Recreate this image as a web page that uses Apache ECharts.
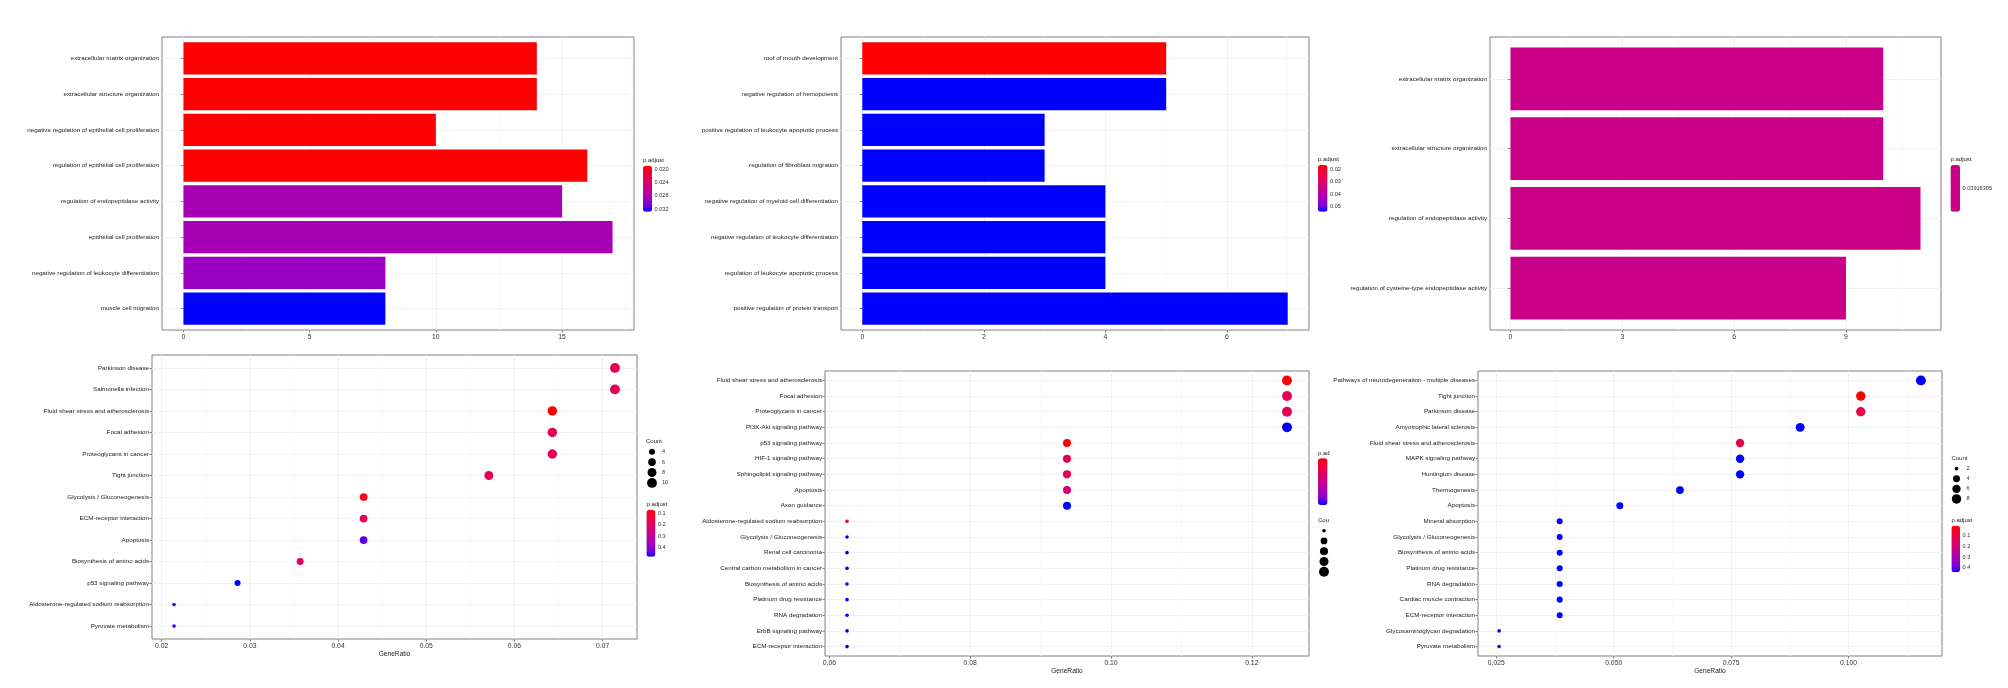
<!DOCTYPE html>
<html>
<head>
<meta charset="utf-8">
<script src="https://cdn.jsdelivr.net/npm/echarts@6.0.0/dist/echarts.min.js"></script>
<style>
html,body{margin:0;padding:0;background:#fff;}
#chart{width:2008px;height:688px;}
</style>
</head>
<body>
<div id="chart"></div>
<script>
// ===================== DATA =====================
// Panel 1 (top-left): GO bar plot
const p1Terms = ['extracellular matrix organization','extracellular structure organization','negative regulation of epithelial cell proliferation','regulation of epithelial cell proliferation','regulation of endopeptidase activity','epithelial cell proliferation','negative regulation of leukocyte differentiation','muscle cell migration'];
const p1Count = [14, 14, 10, 16, 15, 17, 8, 8];
const p1Padj  = [0.0190, 0.0190, 0.0190, 0.0190, 0.0285, 0.0285, 0.0293, 0.0328];
const p1XTicks = [0, 5, 10, 15];
const p1XTickLabels = ['0', '5', '10', '15'];
const p1XMinor = [2.5, 7.5, 12.5, 17.5];
const p1PadjTicks = [0.020, 0.024, 0.028, 0.032];
const p1PadjTickLabels = ['0.020', '0.024', '0.028', '0.032'];

// Panel 2 (top-middle): GO bar plot
const p2Terms = ['roof of mouth development','negative regulation of hemopoiesis','positive regulation of leukocyte apoptotic process','regulation of fibroblast migration','negative regulation of myeloid cell differentiation','negative regulation of leukocyte differentiation','regulation of leukocyte apoptotic process','positive regulation of protein transport'];
const p2Count = [5, 5, 3, 3, 4, 4, 4, 7];
const p2Padj  = [0.0165, 0.0544, 0.0544, 0.0544, 0.0544, 0.0544, 0.0544, 0.0544];
const p2XTicks = [0, 2, 4, 6];
const p2XTickLabels = ['0', '2', '4', '6'];
const p2XMinor = [1, 3, 5, 7];
const p2PadjTicks = [0.02, 0.03, 0.04, 0.05];
const p2PadjTickLabels = ['0.02', '0.03', '0.04', '0.05'];

// Panel 3 (top-right): GO bar plot
const p3Terms = ['extracellular matrix organization','extracellular structure organization','regulation of endopeptidase activity','regulation of cysteine-type endopeptidase activity'];
const p3Count = [10, 10, 11, 9];
const p3Padj  = [0.03916305, 0.03916305, 0.03916305, 0.03916305];
const p3XTicks = [0, 3, 6, 9];
const p3XTickLabels = ['0', '3', '6', '9'];
const p3XMinor = [1.5, 4.5, 7.5, 10.5];
const p3PadjTicks = [0.03916305];
const p3PadjTickLabels = ['0.03916305'];

// Panel 4 (bottom-left): KEGG dot plot
const p4Terms = ['Parkinson disease','Salmonella infection','Fluid shear stress and atherosclerosis','Focal adhesion','Proteoglycans in cancer','Tight junction','Glycolysis / Gluconeogenesis','ECM-receptor interaction','Apoptosis','Biosynthesis of amino acids','p53 signaling pathway','Aldosterone-regulated sodium reabsorption','Pyruvate metabolism'];
const p4Ratio = [0.0714, 0.0714, 0.0643, 0.0643, 0.0643, 0.0571, 0.0429, 0.0429, 0.0429, 0.0357, 0.0286, 0.0214, 0.0214];
const p4Count = [10, 10, 9, 9, 9, 8, 6, 6, 6, 5, 4, 3, 3];
const p4Padj  = [0.181, 0.181, 0.071, 0.181, 0.181, 0.185, 0.098, 0.185, 0.437, 0.193, 0.478, 0.445, 0.445];
const p4XTicks = [0.02, 0.03, 0.04, 0.05, 0.06, 0.07];
const p4XTickLabels = ['0.02', '0.03', '0.04', '0.05', '0.06', '0.07'];
const p4XMinor = [0.025, 0.035, 0.045, 0.055, 0.065];
const p4CountBreaks = [4, 6, 8, 10];
const p4PadjTicks = [0.1, 0.2, 0.3, 0.4];
const p4PadjTickLabels = ['0.1', '0.2', '0.3', '0.4'];

// Panel 5 (bottom-middle): KEGG dot plot
const p5Terms = ['Fluid shear stress and atherosclerosis','Focal adhesion','Proteoglycans in cancer','PI3K-Akt signaling pathway','p53 signaling pathway','HIF-1 signaling pathway','Sphingolipid signaling pathway','Apoptosis','Axon guidance','Aldosterone-regulated sodium reabsorption','Glycolysis / Gluconeogenesis','Renal cell carcinoma','Central carbon metabolism in cancer','Biosynthesis of amino acids','Platinum drug resistance','RNA degradation','ErbB signaling pathway','ECM-receptor interaction'];
const p5Ratio = [0.125, 0.125, 0.125, 0.125, 0.09375, 0.09375, 0.09375, 0.09375, 0.09375, 0.0625, 0.0625, 0.0625, 0.0625, 0.0625, 0.0625, 0.0625, 0.0625, 0.0625];
const p5Count = [4, 4, 4, 4, 3, 3, 3, 3, 3, 2, 2, 2, 2, 2, 2, 2, 2, 2];
const p5Padj  = [0.012, 0.045, 0.045, 0.135, 0.012, 0.045, 0.045, 0.065, 0.135, 0.045, 0.135, 0.135, 0.135, 0.135, 0.135, 0.135, 0.135, 0.135];
const p5XTicks = [0.06, 0.08, 0.10, 0.12];
const p5XTickLabels = ['0.06', '0.08', '0.10', '0.12'];
const p5XMinor = [0.07, 0.09, 0.11];
const p5CountBreaks = [2, 2.5, 3, 3.5, 4];

// Panel 6 (bottom-right): KEGG dot plot
const p6Terms = ['Pathways of neurodegeneration - multiple diseases','Tight junction','Parkinson disease','Amyotrophic lateral sclerosis','Fluid shear stress and atherosclerosis','MAPK signaling pathway','Huntington disease','Thermogenesis','Apoptosis','Mineral absorption','Glycolysis / Gluconeogenesis','Biosynthesis of amino acids','Platinum drug resistance','RNA degradation','Cardiac muscle contraction','ECM-receptor interaction','Glycosaminoglycan degradation','Pyruvate metabolism'];
const p6Ratio = [0.1154, 0.1026, 0.1026, 0.0897, 0.0769, 0.0769, 0.0769, 0.0641, 0.0513, 0.0385, 0.0385, 0.0385, 0.0385, 0.0385, 0.0385, 0.0385, 0.0256, 0.0256];
const p6Count = [9, 8, 8, 7, 6, 6, 6, 5, 4, 3, 3, 3, 3, 3, 3, 3, 2, 2];
const p6Padj  = [0.44, 0.012, 0.098, 0.44, 0.100, 0.44, 0.44, 0.44, 0.44, 0.44, 0.44, 0.44, 0.44, 0.44, 0.44, 0.44, 0.44, 0.44];
const p6XTicks = [0.025, 0.05, 0.075, 0.1];
const p6XTickLabels = ['0.025', '0.050', '0.075', '0.100'];
const p6XMinor = [0.0375, 0.0625, 0.0875, 0.1125];
const p6CountBreaks = [2, 4, 6, 8];
const p6PadjTicks = [0.1, 0.2, 0.3, 0.4];
const p6PadjTickLabels = ['0.1', '0.2', '0.3', '0.4'];

// ===================== STYLE / LAYOUT =====================
const FONT = "'Liberation Sans',Arial,sans-serif";
const FS_CAT = 6.25, FS_TICK = 6.8, FS_NAME = 6.6, FS_LEG = 5.6, FS_LEGT = 6.0;
const PAL = ['#FF0000','#F70031','#E80050','#DA006C','#CA0089','#B500A5','#9A00C3','#7300E0','#0000FF'];
const PAL_MID = PAL[4];
const FRAME = '#808080', GRIDC = '#F0F0F0', MINORC = '#F6F6F6', TICKC = '#666';

const option = {animation: false, backgroundColor: '#ffffff', grid: [], xAxis: [], yAxis: [], series: [], visualMap: [], title: []};
function push(k, o) { option[k].push(o); return option[k].length - 1; }
function addGrid(l, t, w, h, extra) {
  return push('grid', Object.assign({left: l, top: t, width: w, height: h, containLabel: false, outerBoundsMode: 'none'}, extra || {}));
}
function fmtFrom(ticks, labels) {
  return v => {
    const i = ticks.findIndex(tk => Math.abs(tk - v) <= 1e-6 * Math.max(Math.abs(tk), 1e-9));
    return i >= 0 ? labels[i] : '';
  };
}
function txt(size, color) { return {fontFamily: FONT, fontSize: size, color: color || '#222'}; }
function dotSize(c, cmin, cmax) {
  const s = 1 + 5 * Math.sqrt((c - cmin) / (cmax - cmin));
  return 1.25 * s + 2.4;
}
function majorX(gi, xMin, xMax, ticks, labels, name) {
  const o = {type: 'value', gridIndex: gi, min: xMin, max: xMax, position: 'bottom',
    axisLine: {show: false},
    axisTick: {show: true, length: 2.5, customValues: ticks, lineStyle: {color: TICKC, width: 0.8}},
    axisLabel: Object.assign({customValues: ticks, margin: 3.5, formatter: fmtFrom(ticks, labels)}, txt(FS_TICK, '#333')),
    splitLine: {show: true, lineStyle: {color: GRIDC, width: 0.9}}};
  if (name) {
    Object.assign(o, {name: name, nameLocation: 'middle', nameGap: 11, nameTextStyle: txt(FS_NAME, '#222')});
  }
  return push('xAxis', o);
}
function minorX(gi, xMin, xMax, minor) {
  return push('xAxis', {type: 'value', gridIndex: gi, min: xMin, max: xMax, position: 'bottom',
    axisLine: {show: false}, axisTick: {show: false, customValues: minor},
    axisLabel: {show: false, customValues: minor},
    splitLine: {show: true, lineStyle: {color: MINORC, width: 0.7}}});
}
function catY(gi, terms) {
  const n = terms.length;
  const vals = terms.map((_, i) => n - i);
  return push('yAxis', {type: 'value', gridIndex: gi, min: 0.4, max: n + 0.6,
    axisLine: {show: false},
    axisTick: {show: true, length: 2.5, customValues: vals, lineStyle: {color: TICKC, width: 0.8}},
    axisLabel: Object.assign({customValues: vals, margin: 3, formatter: v => terms[n - Math.round(v)]}, txt(FS_CAT, '#1a1a1a')),
    splitLine: {show: true, lineStyle: {color: GRIDC, width: 0.9}}});
}
function legendTitle(text, x, y) {
  push('title', {text: text, left: x, top: y, padding: 0, textStyle: Object.assign({fontWeight: 'normal'}, txt(FS_LEGT, '#222'))});
}
function colorbar(si, dim, pmin, pmax, colors, cb, ticks, labels, showLabels) {
  push('visualMap', {type: 'continuous', seriesIndex: si, dimension: dim, min: pmin, max: pmax,
    inverse: true, calculable: false, hoverLink: false, left: cb.x, top: cb.y, itemWidth: cb.w, itemHeight: cb.h,
    padding: 0, text: null, showLabel: false, inRange: {color: colors}});
  const gi = addGrid(cb.x, cb.y, cb.w, cb.h);
  push('xAxis', {type: 'value', gridIndex: gi, min: 0, max: 1, show: false});
  push('yAxis', {type: 'value', gridIndex: gi, min: pmin, max: pmax, inverse: true, position: 'right', z: 10,
    axisLine: {show: false},
    axisTick: {show: true, inside: true, length: 2, customValues: ticks, lineStyle: {color: '#ffffff', width: 0.8}},
    axisLabel: Object.assign({show: showLabels, customValues: ticks, margin: 2.5, formatter: fmtFrom(ticks, labels)}, txt(FS_LEG, '#333')),
    splitLine: {show: false}});
  legendTitle(cb.title, cb.x, cb.ty);
}
function countLegend(breaks, cmin, cmax, lg, showLabels) {
  const gi = addGrid(lg.cx - 6, lg.top, 12, lg.step * breaks.length);
  const xi = push('xAxis', {type: 'value', gridIndex: gi, min: -1, max: 1, show: false});
  const yi = push('yAxis', {type: 'category', gridIndex: gi, data: breaks.map(String), inverse: true, position: 'right',
    axisLine: {show: false}, axisTick: {show: false}, splitLine: {show: false},
    axisLabel: Object.assign({show: showLabels, margin: 4}, txt(FS_LEG, '#333'))});
  push('series', {type: 'scatter', xAxisIndex: xi, yAxisIndex: yi, silent: true, symbol: 'circle',
    data: breaks.map(b => [0, String(b), b]), symbolSize: v => dotSize(v[2], cmin, cmax),
    itemStyle: {color: '#000000', opacity: 1}});
  legendTitle(lg.title, lg.tx, lg.ty);
}

function barPanel(terms, counts, padj, xTicks, xLabels, xMinor, L) {
  const n = terms.length;
  const [l, t, r, b] = L.frame;
  const maxV = Math.max(...counts);
  const xMin = -0.05 * maxV, xMax = 1.05 * maxV;
  const gF = addGrid(l, t, r - l, b - t, {show: true, borderColor: FRAME, borderWidth: 1, backgroundColor: 'transparent'});
  majorX(gF, xMin, xMax, xTicks, xLabels);
  minorX(gF, xMin, xMax, xMinor);
  catY(gF, terms);
  const u = (b - t) / (n + 0.2);
  const gD = addGrid(l, t + 0.1 * u, r - l, n * u);
  const xi = push('xAxis', {type: 'value', gridIndex: gD, min: xMin, max: xMax, show: false});
  const yi = push('yAxis', {type: 'category', gridIndex: gD, data: terms, inverse: true, show: false});
  return push('series', {type: 'bar', xAxisIndex: xi, yAxisIndex: yi, barWidth: '90%', silent: true,
    data: counts.map((c, i) => [c, terms[i], padj[i]]), encode: {x: 0, y: 1},
    itemStyle: {borderWidth: 0}});
}
function dotPanel(terms, ratios, counts, padj, xTicks, xLabels, xMinor, L) {
  const n = terms.length;
  const [l, t, r, b] = L.frame;
  const lo = Math.min(...ratios), hi = Math.max(...ratios), d = hi - lo;
  const xMin = lo - 0.05 * d, xMax = hi + 0.05 * d;
  const g = addGrid(l, t, r - l, b - t, {show: true, borderColor: FRAME, borderWidth: 1, backgroundColor: 'transparent'});
  const xi = majorX(g, xMin, xMax, xTicks, xLabels, 'GeneRatio');
  minorX(g, xMin, xMax, xMinor);
  const yi = catY(g, terms);
  const cmin = Math.min(...counts), cmax = Math.max(...counts);
  return push('series', {type: 'scatter', xAxisIndex: xi, yAxisIndex: yi, silent: true, symbol: 'circle',
    data: ratios.map((x, i) => [x, n - i, padj[i], counts[i]]),
    symbolSize: v => dotSize(v[3], cmin, cmax),
    itemStyle: {opacity: 1}});
}
const mn = a => Math.min(...a), mx = a => Math.max(...a);

// Layout (pixel positions of panels and legends)
const L1 = {frame: [162, 37, 634, 330], cb: {x: 643, y: 165.7, w: 9, h: 46, title: 'p.adjust', ty: 157}};
const L2 = {frame: [841, 37, 1309, 330], cb: {x: 1318, y: 165, w: 9.5, h: 46.7, title: 'p.adjust', ty: 156.5}};
const L3 = {frame: [1490, 37, 1941, 330], cb: {x: 1950.5, y: 165, w: 9.5, h: 46.7, title: 'p.adjust', ty: 156.5}};
const L4 = {frame: [152, 355, 637, 639], cb: {x: 646.4, y: 510, w: 9, h: 46.7, title: 'p.adjust', ty: 501.5},
  cnt: {cx: 652, top: 446.5, step: 10.4, title: 'Count', tx: 646, ty: 438}};
const L5 = {frame: [825, 371, 1309, 656], cb: {x: 1318, y: 458.3, w: 9.5, h: 46.7, title: 'p.ad', ty: 450},
  cnt: {cx: 1324, top: 525.6, step: 10.25, title: 'Cou', tx: 1318, ty: 517}};
const L6 = {frame: [1478, 371, 1942, 656], cb: {x: 1951.4, y: 525.7, w: 8.6, h: 46.6, title: 'p.adjust', ty: 517},
  cnt: {cx: 1956.5, top: 463.6, step: 10.1, title: 'Count', tx: 1951.4, ty: 455}};

// ===================== BUILD =====================
const s1 = barPanel(p1Terms, p1Count, p1Padj, p1XTicks, p1XTickLabels, p1XMinor, L1);
colorbar(s1, 2, mn(p1Padj), mx(p1Padj), PAL, L1.cb, p1PadjTicks, p1PadjTickLabels, true);

const s2 = barPanel(p2Terms, p2Count, p2Padj, p2XTicks, p2XTickLabels, p2XMinor, L2);
colorbar(s2, 2, mn(p2Padj), mx(p2Padj), PAL, L2.cb, p2PadjTicks, p2PadjTickLabels, true);

const s3 = barPanel(p3Terms, p3Count, p3Padj, p3XTicks, p3XTickLabels, p3XMinor, L3);
colorbar(s3, 2, mn(p3Padj) * (1 - 1e-4), mx(p3Padj) * (1 + 1e-4), [PAL_MID, PAL_MID], L3.cb, p3PadjTicks, p3PadjTickLabels, true);

const s4 = dotPanel(p4Terms, p4Ratio, p4Count, p4Padj, p4XTicks, p4XTickLabels, p4XMinor, L4);
colorbar(s4, 2, mn(p4Padj), mx(p4Padj), PAL, L4.cb, p4PadjTicks, p4PadjTickLabels, true);
countLegend(p4CountBreaks, mn(p4Count), mx(p4Count), L4.cnt, true);

const s5 = dotPanel(p5Terms, p5Ratio, p5Count, p5Padj, p5XTicks, p5XTickLabels, p5XMinor, L5);
colorbar(s5, 2, mn(p5Padj), mx(p5Padj), PAL, L5.cb, [], [], false);
countLegend(p5CountBreaks, mn(p5Count), mx(p5Count), L5.cnt, false);

const s6 = dotPanel(p6Terms, p6Ratio, p6Count, p6Padj, p6XTicks, p6XTickLabels, p6XMinor, L6);
colorbar(s6, 2, mn(p6Padj), mx(p6Padj), PAL, L6.cb, p6PadjTicks, p6PadjTickLabels, true);
countLegend(p6CountBreaks, mn(p6Count), mx(p6Count), L6.cnt, true);

const chart = echarts.init(document.getElementById('chart'), null, {renderer: 'canvas', width: 2008, height: 688});
chart.setOption(option);
</script>
</body>
</html>
